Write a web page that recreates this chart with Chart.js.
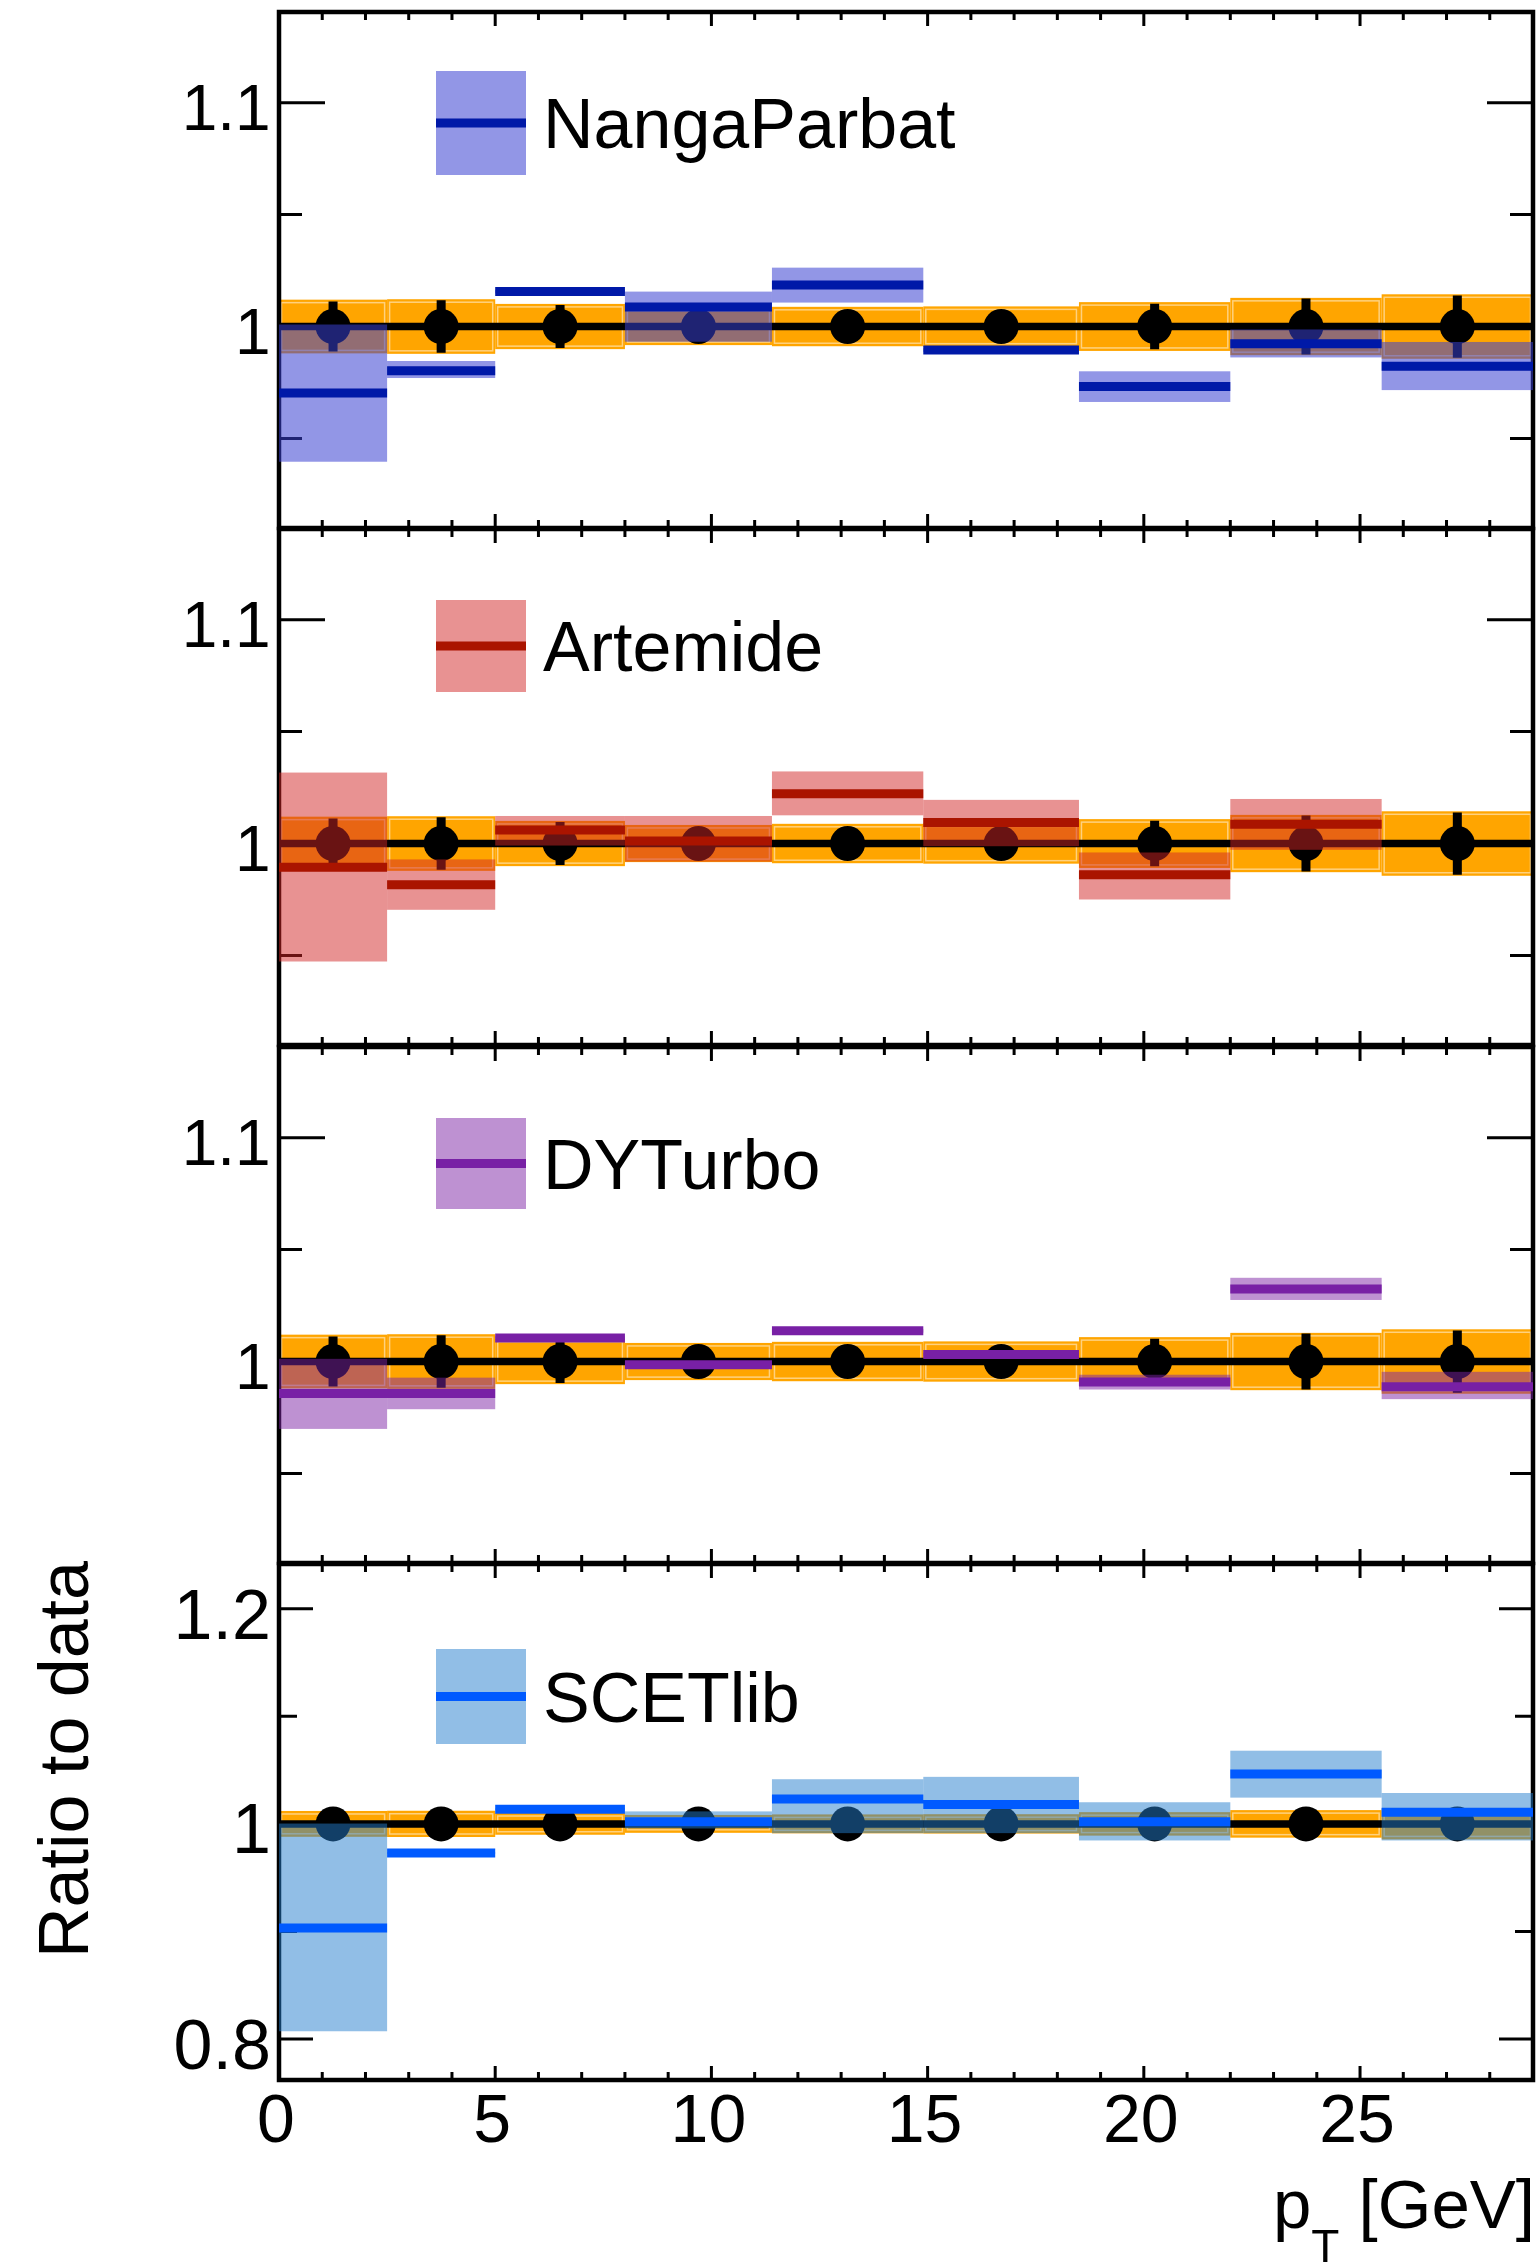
<!DOCTYPE html>
<html lang="en">
<head>
<meta charset="UTF-8">
<title>Ratio to data</title>
<script src="https://cdn.jsdelivr.net/npm/chart.js@4.4.1/dist/chart.umd.min.js"></script>
<style>
  html, body { margin: 0; padding: 0; background: #fff; overflow: hidden; }
  #page { position: relative; width: 1536px; height: 2262px; overflow: hidden; background: #fff; }
  #page canvas { position: absolute; left: 0; top: 0; display: block; }
</style>
</head>
<body>
<div id="page">
  <canvas id="c0" width="1536" height="2262"></canvas>
  <canvas id="c1" width="1536" height="2262"></canvas>
  <canvas id="c2" width="1536" height="2262"></canvas>
  <canvas id="c3" width="1536" height="2262"></canvas>
</div>
<script>
// pT bins [GeV]
const binEdges   = [0, 2.5, 5, 8, 11.4, 14.9, 18.5, 22, 25.5, 29];
const binCenters = [1.25, 3.75, 6.5, 9.7, 13.15, 16.7, 20.25, 23.75, 27.25];

// data (ratio to itself), error bar and total uncertainty band
const dataRatio  = [1, 1, 1, 1, 1, 1, 1, 1, 1];
const dataErr    = [0.0112, 0.0117, 0.0096, 0.006, 0.006, 0.0068, 0.0102, 0.0125, 0.0139];
const dataTotUnc = [0.0120, 0.0122, 0.0101, 0.0083, 0.0088, 0.0090, 0.0109, 0.0128, 0.0144];

// predictions: central value and band edges
const nangaCentral = [0.9703, 0.9803, 1.0156, 1.0087, 1.0186, 0.9895, 0.9732, 0.9923, 0.9823];
const nangaLow     = [0.9396, 0.9770, 1.0148, 0.9932, 1.0107, 0.9887, 0.9663, 0.9862, 0.9716];
const nangaHigh    = [1.0009, 0.9846, 1.0164, 1.0156, 1.0263, 0.9903, 0.9800, 0.9987, 0.9931];

const artemideCentral = [0.9894, 0.9816, 1.0060, 1.0011, 1.0222, 1.0094, 0.9860, 1.0086, null];
const artemideLow     = [0.9473, 0.9704, 0.9991, 0.9919, 1.0126, 0.9988, 0.9750, 0.9972, null];
const artemideHigh    = [1.0317, 0.9929, 1.0123, 1.0123, 1.0322, 1.0195, 0.9960, 1.0199, null];

const dyturboCentral = [0.9857, 0.9857, 1.0105, 0.9986, 1.0137, 1.0031, 0.9908, 1.0324, 0.9887];
const dyturboLow     = [0.9699, 0.9787, 1.0097, 0.9978, 1.0129, 1.0023, 0.9875, 1.0275, 0.9832];
const dyturboHigh    = [1.0012, 0.9928, 1.0113, 0.9994, 1.0145, 1.0039, 0.9941, 1.0374, 0.9954];

const scetCentral = [0.9033, 0.9730, 1.0137, 1.0020, 1.0231, 1.0180, 1.0020, 1.0463, 1.0107];
const scetLow     = [0.8073, 0.9722, 1.0129, 0.9957, 0.9914, 0.9914, 0.9846, 1.0244, 0.9846];
const scetHigh    = [1.0003, 0.9738, 1.0145, 1.0116, 1.0415, 1.0437, 1.0201, 1.0680, 1.0287];

// axis ticks
const xMajorTicks  = [0, 5, 10, 15, 20, 25];
const xTickLabels  = ['0', '5', '10', '15', '20', '25'];
const xMinorTicks  = [1, 2, 3, 4, 6, 7, 8, 9, 11, 12, 13, 14, 16, 17, 18, 19, 21, 22, 23, 24, 26, 27, 28];
const yMajorTicks  = [1.0, 1.1];
const yTickLabels  = ['1', '1.1'];
const yMinorTicks  = [0.95, 1.05];
const scetMajorTicks = [0.8, 1.0, 1.2];
const scetTickLabels = ['0.8', '1', '1.2'];
const scetMinorTicks = [0.9, 1.1];

const ORANGE = '#FFA500';
const FONT = "'Liberation Sans', Arial, Helvetica, sans-serif";

const panels = [
  { name: 'NangaParbat', central: nangaCentral, low: nangaLow, high: nangaHigh,
    line: '#0019A8', band: 'rgba(57,64,210,0.55)', yMin: 0.910, yMax: 1.1405, top: 12,
    major: yMajorTicks, labels: yTickLabels, minor: yMinorTicks, majLen: 46, minLen: 23,
    labelSize: 64, legTop: 71, legH: 104 },
  { name: 'Artemide', central: artemideCentral, low: artemideLow, high: artemideHigh,
    line: '#AA1400', band: 'rgba(209,37,37,0.5)', yMin: 0.910, yMax: 1.1405, top: 529,
    major: yMajorTicks, labels: yTickLabels, minor: yMinorTicks, majLen: 46, minLen: 23,
    labelSize: 64, legTop: 600, legH: 92 },
  { name: 'DYTurbo', central: dyturboCentral, low: dyturboLow, high: dyturboHigh,
    line: '#7820A5', band: 'rgba(125,35,165,0.5)', yMin: 0.910, yMax: 1.1405, top: 1047,
    major: yMajorTicks, labels: yTickLabels, minor: yMinorTicks, majLen: 46, minLen: 23,
    labelSize: 64, legTop: 1118, legH: 91 },
  { name: 'SCETlib', central: scetCentral, low: scetLow, high: scetHigh,
    line: '#005AFF', band: 'rgba(35,125,205,0.5)', yMin: 0.762, yMax: 1.2415, top: 1564,
    major: scetMajorTicks, labels: scetTickLabels, minor: scetMinorTicks, majLen: 34, minLen: 18,
    labelSize: 70, legTop: 1649, legH: 95, last: true }
];
const PANEL_H = 516;

function makePlugin(p) {
  return {
    id: 'ratioPanel',
    beforeDatasetsDraw(chart) {
      const { ctx, chartArea: a, scales: { x, y } } = chart;
      ctx.save();
      // data total uncertainty
      for (let i = 0; i < binCenters.length; i++) {
        const x0 = x.getPixelForValue(binEdges[i]);
        const x1 = x.getPixelForValue(binEdges[i + 1]);
        const yt = y.getPixelForValue(dataRatio[i] + dataTotUnc[i]);
        const yb = y.getPixelForValue(dataRatio[i] - dataTotUnc[i]);
        ctx.fillStyle = ORANGE;
        ctx.fillRect(x0, yt, x1 - x0, yb - yt);
        ctx.strokeStyle = 'rgba(255,214,140,0.9)';
        ctx.lineWidth = 1.5;
        ctx.strokeRect(x0 + 2.5, yt + 3, x1 - x0 - 5, yb - yt - 6);
      }

      // frame and ticks
      ctx.strokeStyle = '#000';
      ctx.lineWidth = 4.5;
      ctx.strokeRect(a.left, a.top, a.right - a.left, a.bottom - a.top);
      ctx.lineWidth = 3;
      ctx.beginPath();
      xMajorTicks.forEach(v => {
        const px = x.getPixelForValue(v);
        ctx.moveTo(px, a.bottom); ctx.lineTo(px, a.bottom - 14);
        ctx.moveTo(px, a.top); ctx.lineTo(px, a.top + 14);
      });
      xMinorTicks.forEach(v => {
        const px = x.getPixelForValue(v);
        ctx.moveTo(px, a.bottom); ctx.lineTo(px, a.bottom - 8);
        ctx.moveTo(px, a.top); ctx.lineTo(px, a.top + 8);
      });
      p.major.forEach(v => {
        const py = y.getPixelForValue(v);
        ctx.moveTo(a.left, py); ctx.lineTo(a.left + p.majLen, py);
        ctx.moveTo(a.right, py); ctx.lineTo(a.right - p.majLen, py);
      });
      p.minor.forEach(v => {
        const py = y.getPixelForValue(v);
        ctx.moveTo(a.left, py); ctx.lineTo(a.left + p.minLen, py);
        ctx.moveTo(a.right, py); ctx.lineTo(a.right - p.minLen, py);
      });
      ctx.stroke();

      // data: horizontal bin bars and vertical error bars
      ctx.strokeStyle = '#000';
      ctx.lineWidth = 7.5;
      ctx.beginPath();
      for (let i = 0; i < binCenters.length; i++) {
        const py = y.getPixelForValue(dataRatio[i]);
        ctx.moveTo(x.getPixelForValue(binEdges[i]), py);
        ctx.lineTo(x.getPixelForValue(binEdges[i + 1]), py);
      }
      ctx.stroke();
      ctx.lineWidth = 9;
      ctx.beginPath();
      for (let i = 0; i < binCenters.length; i++) {
        const px = x.getPixelForValue(binCenters[i]);
        ctx.moveTo(px, y.getPixelForValue(dataRatio[i] + dataErr[i]));
        ctx.lineTo(px, y.getPixelForValue(dataRatio[i] - dataErr[i]));
      }
      ctx.stroke();
      ctx.restore();
    },
    beforeDatasetDraw(chart, args) {
      if (args.index !== 1) return;
      const { ctx, scales: { x, y } } = chart;
      ctx.save();
      ctx.fillStyle = p.band;
      for (let i = 0; i < binCenters.length; i++) {
        if (p.central[i] == null) continue;
        const x0 = x.getPixelForValue(binEdges[i]);
        const x1 = x.getPixelForValue(binEdges[i + 1]);
        const yt = y.getPixelForValue(p.high[i]);
        const yb = y.getPixelForValue(p.low[i]);
        ctx.fillRect(x0, yt, x1 - x0, yb - yt);
      }
      ctx.restore();
    },
    afterDraw(chart) {
      const { ctx, chartArea: a, scales: { x, y } } = chart;
      ctx.save();
      ctx.fillStyle = '#000';
      ctx.textBaseline = 'alphabetic';

      // y tick labels, ink right edge at a fixed x
      ctx.font = p.labelSize + 'px ' + FONT;
      ctx.textAlign = 'left';
      p.major.forEach((v, i) => {
        const m = ctx.measureText(p.labels[i]);
        const py = y.getPixelForValue(v);
        ctx.fillText(p.labels[i], 268 - m.actualBoundingBoxRight, py + 5 + m.actualBoundingBoxAscent / 2);
      });

      // legend
      ctx.fillStyle = p.band;
      ctx.fillRect(436, p.legTop, 90, p.legH);
      ctx.fillStyle = p.line;
      ctx.fillRect(436, p.legTop + p.legH / 2 - 4.5, 90, 9);
      ctx.fillStyle = '#000';
      ctx.font = '70px ' + FONT;
      ctx.textAlign = 'left';
      ctx.fillText(p.name, 543, p.legTop + p.legH / 2 + 25);

      if (p.last) {
        ctx.font = '68px ' + FONT;
        ctx.textAlign = 'center';
        xMajorTicks.forEach((v, i) => {
          ctx.fillText(xTickLabels[i], x.getPixelForValue(v) - 3, a.bottom + 62);
        });

        // x title: p_T [GeV]
        const right = a.right + 2;
        const base = 2228;
        ctx.textAlign = 'left';
        ctx.font = '69px ' + FONT;
        const wGeV = ctx.measureText('[GeV]').width;
        const wSp = ctx.measureText(' ').width;
        const wp = ctx.measureText('p').width;
        ctx.font = '46px ' + FONT;
        const wT = ctx.measureText('T').width;
        const xGeV = right - wGeV;
        const xT = xGeV - wSp - wT;
        const xp = xT - wp;
        ctx.font = '69px ' + FONT;
        ctx.fillText('[GeV]', xGeV, base);
        ctx.fillText('p', xp, base);
        ctx.font = '46px ' + FONT;
        ctx.fillText('T', xT, base + 34);

        // y title
        ctx.save();
        ctx.translate(88, 1561);
        ctx.rotate(-Math.PI / 2);
        ctx.font = '70px ' + FONT;
        ctx.textAlign = 'right';
        ctx.fillText('Ratio to data', 0, 0);
        ctx.restore();
      }
      ctx.restore();
    }
  };
}

function modelSegments(central) {
  const pts = [];
  for (let i = 0; i < central.length; i++) {
    if (central[i] == null) continue;
    pts.push({ x: binEdges[i], y: central[i] });
    pts.push({ x: binEdges[i + 1], y: central[i] });
    pts.push({ x: binEdges[i + 1], y: null });
  }
  return pts;
}

panels.forEach((p, k) => {
  const canvas = document.getElementById('c' + k);
  new Chart(canvas, {
    type: 'scatter',
    data: {
      datasets: [
        {
          label: 'Data',
          data: binCenters.map((c, i) => ({ x: c, y: dataRatio[i] })),
          pointRadius: 17.5,
          pointHoverRadius: 17.5,
          pointBackgroundColor: '#000',
          pointBorderWidth: 0,
          order: 2
        },
        {
          type: 'line',
          label: p.name,
          data: modelSegments(p.central),
          borderColor: p.line,
          borderWidth: 9,
          borderCapStyle: 'butt',
          pointRadius: 0,
          spanGaps: false,
          tension: 0,
          order: 1
        }
      ]
    },
    options: {
      responsive: false,
      animation: false,
      events: [],
      devicePixelRatio: 1,
      layout: {
        autoPadding: false,
        padding: { left: 279, right: 3, top: p.top, bottom: 2262 - p.top - PANEL_H }
      },
      plugins: { legend: { display: false }, tooltip: { enabled: false } },
      scales: {
        x: { type: 'linear', min: 0, max: 29, display: false, ticks: { display: false } },
        y: { type: 'linear', min: p.yMin, max: p.yMax, display: false, ticks: { display: false } }
      }
    },
    plugins: [makePlugin(p)]
  });
});
</script>
</body>
</html>
